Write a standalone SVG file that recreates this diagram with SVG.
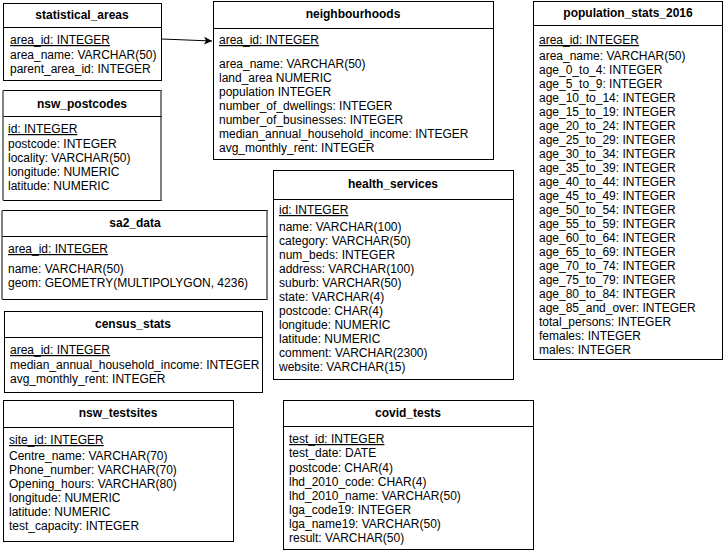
<svg xmlns="http://www.w3.org/2000/svg" width="724" height="551" viewBox="0 0 724 551">
<defs>
<style>
.box{fill:#fff;stroke:#000;stroke-width:1}
.sep{stroke:#000;stroke-width:1}
.gray{stroke:#808080;stroke-width:2}
.t{font-family:"Liberation Sans",Arial,sans-serif;font-size:12px;font-weight:bold;fill:#000;text-anchor:middle}
.f{font-family:"Liberation Sans",Arial,sans-serif;font-size:12px;fill:#000}
.k{text-decoration:underline}
.edge{stroke:#000;stroke-width:1;fill:none}
</style>
<marker id="arr" markerWidth="10" markerHeight="10" refX="8" refY="4" orient="auto" markerUnits="userSpaceOnUse">
<path d="M0,0 L8,4 L0,8 L2,4 Z" fill="#000"/>
</marker>
</defs>
<rect width="724" height="551" fill="#fff"/>

<g id="statistical_areas">
<rect class="box" x="3.5" y="3.5" width="158" height="77"/>
<line class="sep" x1="3.5" y1="27.5" x2="161.5" y2="27.5"/>
<text class="t" x="82" y="19">statistical_areas</text>
<text class="f k" x="10" y="44">area_id: INTEGER</text>
<text class="f" x="10" y="59">area_name: VARCHAR(50)</text>
<text class="f" x="10" y="73">parent_area_id: INTEGER</text>
</g>

<g id="nsw_postcodes">
<rect class="box" x="3.5" y="90.5" width="158" height="110"/>
<line class="gray" x1="3" y1="90.5" x2="3" y2="200.5"/>
<line class="gray" x1="161" y1="90.5" x2="161" y2="200.5"/>
<line class="sep" x1="3.5" y1="116.5" x2="161.5" y2="116.5"/>
<text class="t" x="82" y="108">nsw_postcodes</text>
<text class="f k" x="8" y="133">id: INTEGER</text>
<text class="f" x="8" y="148">postcode: INTEGER</text>
<text class="f" x="8" y="162">locality: VARCHAR(50)</text>
<text class="f" x="8" y="176">longitude: NUMERIC</text>
<text class="f" x="8" y="190">latitude: NUMERIC</text>
</g>

<g id="neighbourhoods">
<rect class="box" x="213.5" y="1.5" width="280" height="158"/>
<line class="sep" x1="213.5" y1="28.5" x2="493.5" y2="28.5"/>
<text class="t" x="353" y="18">neighbourhoods</text>
<text class="f k" x="219" y="44">area_id: INTEGER</text>
<text class="f" x="219" y="68">area_name: VARCHAR(50)</text>
<text class="f" x="219" y="82">land_area NUMERIC</text>
<text class="f" x="219" y="96">population INTEGER</text>
<text class="f" x="219" y="110">number_of_dwellings: INTEGER</text>
<text class="f" x="219" y="124">number_of_businesses: INTEGER</text>
<text class="f" x="219" y="138">median_annual_household_income: INTEGER</text>
<text class="f" x="219" y="152">avg_monthly_rent: INTEGER</text>
</g>

<g id="population_stats_2016">
<rect class="box" x="533.5" y="1.5" width="189" height="358"/>
<line class="sep" x1="533.5" y1="25.5" x2="722.5" y2="25.5"/>
<text class="t" x="628" y="17">population_stats_2016</text>
<text class="f k" x="539" y="44">area_id: INTEGER</text>
<text class="f" x="539" y="60">area_name: VARCHAR(50)</text>
<text class="f" x="539" y="74">age_0_to_4: INTEGER</text>
<text class="f" x="539" y="88">age_5_to_9: INTEGER</text>
<text class="f" x="539" y="102">age_10_to_14: INTEGER</text>
<text class="f" x="539" y="116">age_15_to_19: INTEGER</text>
<text class="f" x="539" y="130">age_20_to_24: INTEGER</text>
<text class="f" x="539" y="144">age_25_to_29: INTEGER</text>
<text class="f" x="539" y="158">age_30_to_34: INTEGER</text>
<text class="f" x="539" y="172">age_35_to_39: INTEGER</text>
<text class="f" x="539" y="186">age_40_to_44: INTEGER</text>
<text class="f" x="539" y="200">age_45_to_49: INTEGER</text>
<text class="f" x="539" y="214">age_50_to_54: INTEGER</text>
<text class="f" x="539" y="228">age_55_to_59: INTEGER</text>
<text class="f" x="539" y="242">age_60_to_64: INTEGER</text>
<text class="f" x="539" y="256">age_65_to_69: INTEGER</text>
<text class="f" x="539" y="270">age_70_to_74: INTEGER</text>
<text class="f" x="539" y="284">age_75_to_79: INTEGER</text>
<text class="f" x="539" y="298">age_80_to_84: INTEGER</text>
<text class="f" x="539" y="312">age_85_and_over: INTEGER</text>
<text class="f" x="539" y="326">total_persons: INTEGER</text>
<text class="f" x="539" y="340">females: INTEGER</text>
<text class="f" x="539" y="354">males: INTEGER</text>
</g>

<g id="sa2_data">
<rect class="box" x="2.5" y="210.5" width="265" height="89"/>
<line class="gray" x1="2" y1="210.5" x2="2" y2="299.5"/>
<line class="gray" x1="267" y1="210.5" x2="267" y2="299.5"/>
<line class="sep" x1="2.5" y1="236.5" x2="267.5" y2="236.5"/>
<text class="t" x="135" y="227">sa2_data</text>
<text class="f k" x="8" y="253">area_id: INTEGER</text>
<text class="f" x="8" y="273">name: VARCHAR(50)</text>
<text class="f" x="8" y="287">geom: GEOMETRY(MULTIPOLYGON, 4236)</text>
</g>

<g id="census_stats">
<rect class="box" x="4.5" y="311.5" width="258" height="81"/>
<line class="sep" x1="4.5" y1="337.5" x2="262.5" y2="337.5"/>
<text class="t" x="133" y="328">census_stats</text>
<text class="f k" x="10" y="354">area_id: INTEGER</text>
<text class="f" x="10" y="369">median_annual_household_income: INTEGER</text>
<text class="f" x="10" y="383">avg_monthly_rent: INTEGER</text>
</g>

<g id="health_services">
<rect class="box" x="273.5" y="170.5" width="240" height="209"/>
<line class="sep" x1="273.5" y1="199.5" x2="513.5" y2="199.5"/>
<text class="t" x="393" y="188">health_services</text>
<text class="f k" x="279" y="214">id: INTEGER</text>
<text class="f" x="279" y="231">name: VARCHAR(100)</text>
<text class="f" x="279" y="245">category: VARCHAR(50)</text>
<text class="f" x="279" y="259">num_beds: INTEGER</text>
<text class="f" x="279" y="273">address: VARCHAR(100)</text>
<text class="f" x="279" y="287">suburb: VARCHAR(50)</text>
<text class="f" x="279" y="301">state: VARCHAR(4)</text>
<text class="f" x="279" y="315">postcode: CHAR(4)</text>
<text class="f" x="279" y="329">longitude: NUMERIC</text>
<text class="f" x="279" y="343">latitude: NUMERIC</text>
<text class="f" x="279" y="357">comment: VARCHAR(2300)</text>
<text class="f" x="279" y="371">website: VARCHAR(15)</text>
</g>

<g id="nsw_testsites">
<rect class="box" x="3.5" y="400.5" width="230" height="141"/>
<line class="sep" x1="3.5" y1="427.5" x2="233.5" y2="427.5"/>
<text class="t" x="118" y="417">nsw_testsites</text>
<text class="f k" x="9" y="444">site_id: INTEGER</text>
<text class="f" x="9" y="460">Centre_name: VARCHAR(70)</text>
<text class="f" x="9" y="474">Phone_number: VARCHAR(70)</text>
<text class="f" x="9" y="488">Opening_hours: VARCHAR(80)</text>
<text class="f" x="9" y="502">longitude: NUMERIC</text>
<text class="f" x="9" y="516">latitude: NUMERIC</text>
<text class="f" x="9" y="530">test_capacity: INTEGER</text>
</g>

<g id="covid_tests">
<rect class="box" x="283.5" y="400.5" width="250" height="149"/>
<line class="sep" x1="283.5" y1="426.5" x2="533.5" y2="426.5"/>
<text class="t" x="408" y="417">covid_tests</text>
<text class="f k" x="289" y="443">test_id: INTEGER</text>
<text class="f" x="289" y="457">test_date: DATE</text>
<text class="f" x="289" y="472">postcode: CHAR(4)</text>
<text class="f" x="289" y="486">lhd_2010_code: CHAR(4)</text>
<text class="f" x="289" y="500">lhd_2010_name: VARCHAR(50)</text>
<text class="f" x="289" y="514">lga_code19: INTEGER</text>
<text class="f" x="289" y="528">lga_name19: VARCHAR(50)</text>
<text class="f" x="289" y="542">result: VARCHAR(50)</text>
</g>

<g id="connectors">
<path class="edge" d="M161.5,39 L212,41" marker-end="url(#arr)"/>
</g>
</svg>
